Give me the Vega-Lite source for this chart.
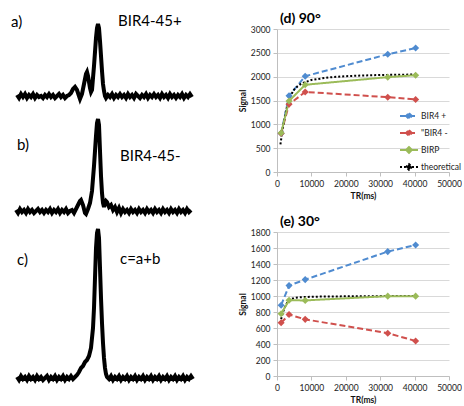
{
  "$schema": "https://vega.github.io/schema/vega-lite/v6.json",
  "padding": {"top": 12, "left": 0, "right": 0, "bottom": 0},
  "bounds": "flush",
  "spacing": 277,
  "config": {
    "view": {"stroke": null},
    "font": "Lato",
    "axis": {
      "labelFont": "Lato", "titleFont": "Lato", "labelFontSize": 8.5, "titleFontSize": 8.5,
      "labelColor": "#222222", "titleColor": "#111111", "titleFontWeight": "bold",
      "domainColor": "#bfbfbf", "tickColor": "#bfbfbf", "tickSize": 4, "gridColor": "#d9d9d9",
      "labelOverlap": false, "labelFlush": false
    }
  },
  "hconcat": [
    {
      "bounds": "flush",
      "spacing": 10,
      "vconcat": [
        {
          "width": 200, "height": 100,
          "layer": [
            {
              "data": {"values": [
                {"f":17,"I":1},{"f":19,"I":-2},{"f":21,"I":2},{"f":23,"I":-1},{"f":25,"I":2},{"f":27,"I":-2},{"f":29,"I":1},{"f":31,"I":-1},{"f":33,"I":2},{"f":35,"I":-2},{"f":37,"I":1},{"f":39,"I":-1},{"f":41,"I":0},{"f":43,"I":-2},{"f":45,"I":1},{"f":47,"I":-1},{"f":49,"I":2},{"f":51,"I":-1},{"f":53,"I":1},{"f":55,"I":-2},{"f":57,"I":0},{"f":59,"I":2},{"f":61,"I":-1},{"f":63,"I":1},{"f":65,"I":-2},{"f":67,"I":0},{"f":69,"I":1},{"f":71,"I":3},{"f":73,"I":7},{"f":75,"I":9},{"f":77,"I":6},{"f":79,"I":0},{"f":80,"I":-3},{"f":82,"I":2},{"f":84,"I":12},{"f":86,"I":22},{"f":87,"I":24},{"f":88,"I":20},{"f":90,"I":8},{"f":91,"I":4},{"f":92,"I":6},{"f":94,"I":30},{"f":96,"I":58},{"f":97,"I":68},{"f":98,"I":72},{"f":99,"I":68},{"f":100,"I":55},{"f":101,"I":40},{"f":102,"I":25},{"f":103,"I":12},{"f":104,"I":5},{"f":105,"I":0},{"f":106,"I":-2},{"f":108,"I":1},{"f":110,"I":-1},{"f":112,"I":2},{"f":114,"I":-2},{"f":116,"I":1},{"f":118,"I":-1},{"f":120,"I":2},{"f":122,"I":-1},{"f":124,"I":1},{"f":126,"I":-2},{"f":128,"I":2},{"f":130,"I":-1},{"f":132,"I":1},{"f":134,"I":-2},{"f":136,"I":2},{"f":138,"I":0},{"f":140,"I":-2},{"f":142,"I":1},{"f":144,"I":-1},{"f":146,"I":2},{"f":148,"I":-2},{"f":150,"I":1},{"f":152,"I":-1},{"f":154,"I":2},{"f":156,"I":-1},{"f":158,"I":1},{"f":160,"I":-2},{"f":162,"I":2},{"f":164,"I":-1},{"f":166,"I":1},{"f":168,"I":-2},{"f":170,"I":2},{"f":172,"I":-1},{"f":174,"I":1},{"f":176,"I":-2},{"f":178,"I":1},{"f":180,"I":-1},{"f":182,"I":2},{"f":184,"I":-2},{"f":186,"I":1},{"f":188,"I":-1},{"f":190,"I":2},{"f":192,"I":-1}
              ]},
              "mark": {"type": "line", "color": "black", "strokeWidth": 4},
              "encoding": {
                "x": {"field": "f", "type": "quantitative", "scale": {"domain": [0, 200], "nice": false}, "axis": null},
                "y": {"field": "I", "type": "quantitative", "scale": {"domain": [-33, 67], "nice": false, "zero": false}, "axis": null}
              }
            },
            {
              "data": {"values": [{"f": 11, "I": 74, "t": "a)"}, {"f": 118, "I": 75, "t": "BIR4-45+"}]},
              "mark": {"type": "text", "align": "left", "baseline": "middle", "fontSize": 15, "font": "Lato", "color": "black"},
              "encoding": {
                "x": {"field": "f", "type": "quantitative"},
                "y": {"field": "I", "type": "quantitative"},
                "text": {"field": "t"}
              }
            }
          ]
        },
        {
          "width": 200, "height": 90,
          "layer": [
            {
              "data": {"values": [
                {"f":16,"I":1},{"f":18,"I":-2},{"f":20,"I":2},{"f":22,"I":-1},{"f":24,"I":1},{"f":26,"I":-2},{"f":28,"I":2},{"f":30,"I":-1},{"f":32,"I":1},{"f":34,"I":-2},{"f":36,"I":0},{"f":38,"I":2},{"f":40,"I":-1},{"f":42,"I":1},{"f":44,"I":-2},{"f":46,"I":1},{"f":48,"I":-1},{"f":50,"I":2},{"f":52,"I":-2},{"f":54,"I":1},{"f":56,"I":-1},{"f":58,"I":2},{"f":60,"I":-2},{"f":62,"I":1},{"f":64,"I":-1},{"f":66,"I":2},{"f":68,"I":-2},{"f":70,"I":0},{"f":72,"I":1},{"f":74,"I":-2},{"f":76,"I":2},{"f":78,"I":6},{"f":80,"I":10},{"f":81,"I":11},{"f":83,"I":6},{"f":85,"I":-2},{"f":86,"I":-3},{"f":88,"I":2},{"f":90,"I":8},{"f":92,"I":20},{"f":94,"I":45},{"f":96,"I":75},{"f":97,"I":88},{"f":98,"I":92},{"f":99,"I":86},{"f":100,"I":60},{"f":101,"I":35},{"f":102,"I":18},{"f":103,"I":8},{"f":104,"I":4},{"f":105,"I":8},{"f":106,"I":10},{"f":107,"I":9},{"f":109,"I":4},{"f":111,"I":6},{"f":113,"I":1},{"f":115,"I":4},{"f":117,"I":-1},{"f":119,"I":3},{"f":121,"I":-2},{"f":123,"I":2},{"f":125,"I":-1},{"f":127,"I":1},{"f":129,"I":-2},{"f":131,"I":2},{"f":133,"I":-1},{"f":135,"I":1},{"f":137,"I":-2},{"f":139,"I":2},{"f":141,"I":-1},{"f":143,"I":1},{"f":145,"I":-2},{"f":147,"I":2},{"f":149,"I":-1},{"f":151,"I":1},{"f":153,"I":-2},{"f":155,"I":2},{"f":157,"I":-1},{"f":159,"I":1},{"f":161,"I":-2},{"f":163,"I":2},{"f":165,"I":-1},{"f":167,"I":1},{"f":169,"I":-2},{"f":171,"I":2},{"f":173,"I":-1},{"f":175,"I":1},{"f":177,"I":-2},{"f":179,"I":2},{"f":181,"I":-1},{"f":183,"I":1},{"f":185,"I":-2},{"f":187,"I":2},{"f":189,"I":-1},{"f":191,"I":1}
              ]},
              "mark": {"type": "line", "color": "black", "strokeWidth": 4},
              "encoding": {
                "x": {"field": "f", "type": "quantitative", "scale": {"domain": [0, 200], "nice": false}, "axis": null},
                "y": {"field": "I", "type": "quantitative", "scale": {"domain": [-18, 72], "nice": false, "zero": false}, "axis": null}
              }
            },
            {
              "data": {"values": [{"f": 17, "I": 66, "t": "b)"}, {"f": 120, "I": 55, "t": "BIR4-45-"}]},
              "mark": {"type": "text", "align": "left", "baseline": "middle", "fontSize": 15, "font": "Lato", "color": "black"},
              "encoding": {
                "x": {"field": "f", "type": "quantitative"},
                "y": {"field": "I", "type": "quantitative"},
                "text": {"field": "t"}
              }
            }
          ]
        },
        {
          "width": 200, "height": 150,
          "layer": [
            {
              "data": {"values": [
                {"f":17,"I":1},{"f":19,"I":-2},{"f":21,"I":2},{"f":23,"I":-1},{"f":25,"I":1},{"f":27,"I":-2},{"f":29,"I":2},{"f":31,"I":-1},{"f":33,"I":1},{"f":35,"I":-2},{"f":37,"I":2},{"f":39,"I":-1},{"f":41,"I":1},{"f":43,"I":-2},{"f":45,"I":0},{"f":47,"I":2},{"f":49,"I":-2},{"f":51,"I":1},{"f":53,"I":-1},{"f":55,"I":2},{"f":57,"I":-2},{"f":59,"I":1},{"f":61,"I":-1},{"f":63,"I":2},{"f":65,"I":-2},{"f":67,"I":1},{"f":69,"I":-1},{"f":71,"I":2},{"f":73,"I":-1},{"f":75,"I":1},{"f":77,"I":3},{"f":79,"I":6},{"f":81,"I":10},{"f":83,"I":12},{"f":85,"I":16},{"f":87,"I":18},{"f":89,"I":22},{"f":91,"I":30},{"f":93,"I":50},{"f":94,"I":70},{"f":95,"I":100},{"f":96,"I":130},{"f":97,"I":145},{"f":98,"I":149},{"f":99,"I":140},{"f":100,"I":110},{"f":101,"I":80},{"f":102,"I":55},{"f":103,"I":35},{"f":104,"I":20},{"f":105,"I":10},{"f":106,"I":4},{"f":107,"I":1},{"f":109,"I":-1},{"f":111,"I":2},{"f":113,"I":-2},{"f":115,"I":1},{"f":117,"I":-1},{"f":119,"I":2},{"f":121,"I":-2},{"f":123,"I":1},{"f":125,"I":-1},{"f":127,"I":2},{"f":129,"I":-2},{"f":131,"I":1},{"f":133,"I":-1},{"f":135,"I":2},{"f":137,"I":-2},{"f":139,"I":1},{"f":141,"I":-1},{"f":143,"I":2},{"f":145,"I":-2},{"f":147,"I":1},{"f":149,"I":-1},{"f":151,"I":2},{"f":153,"I":-2},{"f":155,"I":1},{"f":157,"I":-1},{"f":159,"I":2},{"f":161,"I":-2},{"f":163,"I":1},{"f":165,"I":-1},{"f":167,"I":2},{"f":169,"I":-2},{"f":171,"I":1},{"f":173,"I":-1},{"f":175,"I":2},{"f":177,"I":-2},{"f":179,"I":1},{"f":181,"I":-1},{"f":183,"I":2},{"f":185,"I":-2},{"f":187,"I":1},{"f":189,"I":-1},{"f":191,"I":2},{"f":193,"I":-1}
              ]},
              "mark": {"type": "line", "color": "black", "strokeWidth": 4},
              "encoding": {
                "x": {"field": "f", "type": "quantitative", "scale": {"domain": [0, 200], "nice": false}, "axis": null},
                "y": {"field": "I", "type": "quantitative", "scale": {"domain": [-11, 139], "nice": false, "zero": false}, "axis": null}
              }
            },
            {
              "data": {"values": [{"f": 17, "I": 118, "t": "c)"}, {"f": 120, "I": 119, "t": "c=a+b"}]},
              "mark": {"type": "text", "align": "left", "baseline": "middle", "fontSize": 15, "font": "Lato", "color": "black"},
              "encoding": {
                "x": {"field": "f", "type": "quantitative"},
                "y": {"field": "I", "type": "quantitative"},
                "text": {"field": "t"}
              }
            }
          ]
        }
      ]
    },
    {
      "bounds": "flush",
      "spacing": 60,
      "vconcat": [
        {
          "width": 172, "height": 143,
          "title": {"text": "(d) 90°", "anchor": "start", "frame": "group", "fontSize": 14, "fontWeight": "bold", "font": "Lato", "offset": -1, "dx": 3, "color": "black"},
          "data": {"values": [
            {"series":"BIR4 +","TR":1200,"S":810},{"series":"BIR4 +","TR":3500,"S":1600},{"series":"BIR4 +","TR":8200,"S":2010},{"series":"BIR4 +","TR":32200,"S":2470},{"series":"BIR4 +","TR":40300,"S":2600},
            {"series":"\"BIR4 -","TR":1200,"S":810},{"series":"\"BIR4 -","TR":3500,"S":1420},{"series":"\"BIR4 -","TR":8200,"S":1680},{"series":"\"BIR4 -","TR":32200,"S":1570},{"series":"\"BIR4 -","TR":40300,"S":1520},
            {"series":"theoretical","TR":1000,"S":580},{"series":"theoretical","TR":1500,"S":830},{"series":"theoretical","TR":2000,"S":1050},{"series":"theoretical","TR":2500,"S":1240},{"series":"theoretical","TR":3000,"S":1400},{"series":"theoretical","TR":3500,"S":1520},{"series":"theoretical","TR":4000,"S":1610},{"series":"theoretical","TR":5000,"S":1730},{"series":"theoretical","TR":6000,"S":1800},{"series":"theoretical","TR":7000,"S":1850},{"series":"theoretical","TR":8000,"S":1880},{"series":"theoretical","TR":10000,"S":1930},{"series":"theoretical","TR":15000,"S":1985},{"series":"theoretical","TR":20000,"S":2010},{"series":"theoretical","TR":25000,"S":2025},{"series":"theoretical","TR":30000,"S":2035},{"series":"theoretical","TR":35000,"S":2040},{"series":"theoretical","TR":40300,"S":2045},
            {"series":"BIRP","TR":1200,"S":820},{"series":"BIRP","TR":3500,"S":1490},{"series":"BIRP","TR":8200,"S":1830},{"series":"BIRP","TR":32200,"S":1990},{"series":"BIRP","TR":40300,"S":2030}
          ]},
          "encoding": {
            "x": {"field": "TR", "type": "quantitative", "scale": {"domain": [0, 50000], "nice": false},
                  "axis": {"title": "TR(ms)", "values": [0, 10000, 20000, 30000, 40000, 50000], "format": "d", "grid": false, "labelPadding": 3, "titlePadding": 4}},
            "y": {"field": "S", "type": "quantitative", "scale": {"domain": [0, 3000], "nice": false},
                  "axis": {"title": "Signal", "values": [0, 500, 1000, 1500, 2000, 2500, 3000], "format": "d", "grid": true, "labelPadding": 3, "titlePadding": 3}},
            "color": {"field": "series", "type": "nominal",
                      "scale": {"domain": ["BIR4 +", "\"BIR4 -", "BIRP", "theoretical"], "range": ["#4F8BD0", "#D0504D", "#9BBB59", "#000000"]},
                      "legend": {"title": null, "orient": "none", "legendX": 122, "legendY": 77, "padding": 0,
                                 "symbolType": "M-1,0L1,0M0,-0.32L0.32,0L0,0.32L-0.32,0Z", "symbolSize": 324, "symbolStrokeWidth": 2,
                                 "labelFontSize": 8.5, "labelFont": "Lato", "labelColor": "#222222", "labelOffset": 2, "rowPadding": -1}},
            "strokeDash": {"field": "series", "type": "nominal",
                           "scale": {"domain": ["BIR4 +", "\"BIR4 -", "BIRP", "theoretical"], "range": [[6, 3], [6, 3], [1, 0], [2, 2]]},
                           "legend": {"title": null, "orient": "none", "legendX": 122, "legendY": 77, "padding": 0,
                                 "symbolType": "M-1,0L1,0M0,-0.32L0.32,0L0,0.32L-0.32,0Z", "symbolSize": 324, "symbolStrokeWidth": 2,
                                 "labelFontSize": 8.5, "labelFont": "Lato", "labelColor": "#222222", "labelOffset": 2, "rowPadding": -1}}
          },
          "layer": [
            {"mark": {"type": "line", "strokeWidth": 2}},
            {"transform": [{"filter": "datum.series != 'theoretical'"}],
             "mark": {"type": "point", "shape": "diamond", "filled": true, "size": 50, "opacity": 1}}
          ]
        },
        {
          "width": 172, "height": 144,
          "title": {"text": "(e) 30°", "anchor": "start", "frame": "group", "fontSize": 14, "fontWeight": "bold", "font": "Lato", "offset": -1, "dx": 3, "color": "black"},
          "data": {"values": [
            {"series":"BIR4 +","TR":1200,"S":885},{"series":"BIR4 +","TR":3500,"S":1130},{"series":"BIR4 +","TR":8200,"S":1205},{"series":"BIR4 +","TR":32200,"S":1555},{"series":"BIR4 +","TR":40300,"S":1638},
            {"series":"\"BIR4 -","TR":1200,"S":665},{"series":"\"BIR4 -","TR":3500,"S":768},{"series":"\"BIR4 -","TR":8200,"S":708},{"series":"\"BIR4 -","TR":32200,"S":535},{"series":"\"BIR4 -","TR":40300,"S":438},
            {"series":"theoretical","TR":1200,"S":710},{"series":"theoretical","TR":1500,"S":760},{"series":"theoretical","TR":2000,"S":830},{"series":"theoretical","TR":2500,"S":880},{"series":"theoretical","TR":3000,"S":920},{"series":"theoretical","TR":3500,"S":945},{"series":"theoretical","TR":4000,"S":960},{"series":"theoretical","TR":5000,"S":975},{"series":"theoretical","TR":6000,"S":982},{"series":"theoretical","TR":8000,"S":988},{"series":"theoretical","TR":12000,"S":992},{"series":"theoretical","TR":20000,"S":996},{"series":"theoretical","TR":32200,"S":999},{"series":"theoretical","TR":40300,"S":1000},
            {"series":"BIRP","TR":1200,"S":778},{"series":"BIRP","TR":3500,"S":946},{"series":"BIRP","TR":8200,"S":945},{"series":"BIRP","TR":32200,"S":998},{"series":"BIRP","TR":40300,"S":998}
          ]},
          "encoding": {
            "x": {"field": "TR", "type": "quantitative", "scale": {"domain": [0, 50000], "nice": false},
                  "axis": {"title": "TR(ms)", "values": [0, 10000, 20000, 30000, 40000, 50000], "format": "d", "grid": false, "labelPadding": 3, "titlePadding": 4}},
            "y": {"field": "S", "type": "quantitative", "scale": {"domain": [0, 1800], "nice": false},
                  "axis": {"title": "Signal", "values": [0, 200, 400, 600, 800, 1000, 1200, 1400, 1600, 1800], "format": "d", "grid": true, "labelPadding": 3, "titlePadding": 3}},
            "color": {"field": "series", "type": "nominal",
                      "scale": {"domain": ["BIR4 +", "\"BIR4 -", "BIRP", "theoretical"], "range": ["#4F8BD0", "#D0504D", "#9BBB59", "#000000"]},
                      "legend": null},
            "strokeDash": {"field": "series", "type": "nominal",
                           "scale": {"domain": ["BIR4 +", "\"BIR4 -", "BIRP", "theoretical"], "range": [[6, 3], [6, 3], [1, 0], [2, 2]]},
                           "legend": null}
          },
          "layer": [
            {"mark": {"type": "line", "strokeWidth": 2}},
            {"transform": [{"filter": "datum.series != 'theoretical'"}],
             "mark": {"type": "point", "shape": "diamond", "filled": true, "size": 50, "opacity": 1}}
          ]
        }
      ]
    }
  ],
  "resolve": {"scale": {"color": "independent", "strokeDash": "independent"}}
}
